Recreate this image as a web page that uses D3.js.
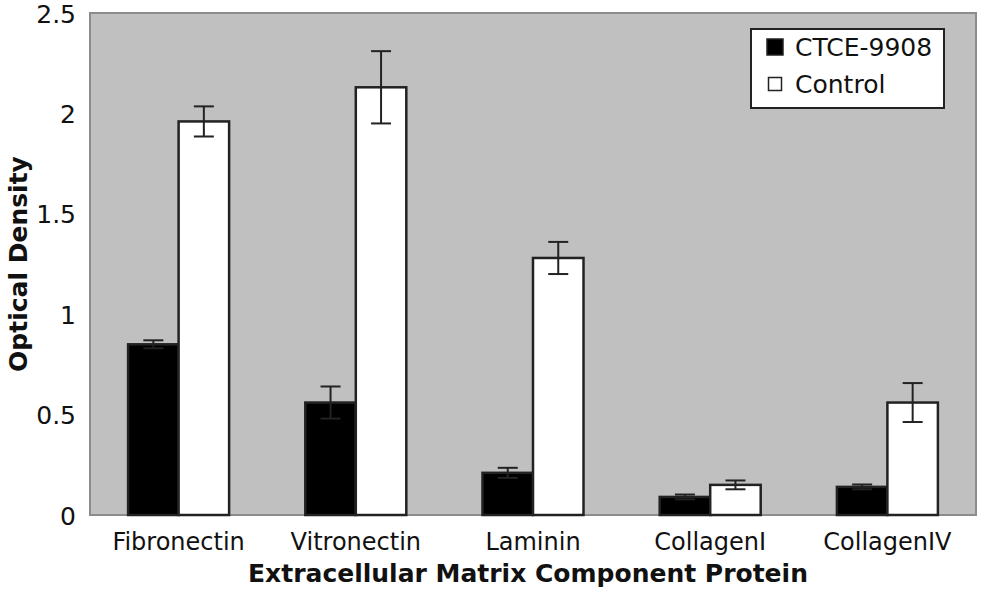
<!DOCTYPE html>
<html><head><meta charset="utf-8">
<script src="https://cdn.jsdelivr.net/npm/d3@7"></script>
<style>body{margin:0;background:#fff}svg{display:block}</style>
</head><body>
<svg id="c" width="986" height="600"></svg>
<script>
const categories = ["Fibronectin","Vitronectin","Laminin","CollagenI","CollagenIV"];
const seriesNames = ["CTCE-9908","Control"];
const ctceValues = [0.85, 0.56, 0.21, 0.09, 0.14];
const ctceErrors = [0.02, 0.08, 0.025, 0.012, 0.012];
const controlValues = [1.96, 2.13, 1.28, 0.15, 0.56];
const controlErrors = [0.075, 0.18, 0.08, 0.022, 0.097];
const yTicks = [0, 0.5, 1, 1.5, 2, 2.5];
const yTickLabels = ["0","0.5","1","1.5","2","2.5"];

const svg = d3.select("#c");
const font = "'DejaVu Sans', Verdana, sans-serif";
const m = {l: 90, t: 13, r: 976, b: 515};
const x = d3.scaleBand().domain(categories).range([m.l, m.r]).paddingInner(0.43).paddingOuter(0.215);
const xs = d3.scaleBand().domain(seriesNames).range([0, x.bandwidth()]);
const y = d3.scaleLinear().domain([0, 2.5]).range([m.b, m.t]);

svg.append("rect").attr("x", m.l).attr("y", m.t).attr("width", m.r - m.l).attr("height", m.b - m.t)
  .attr("fill", "#c0c0c0").attr("stroke", "#8c8c8c").attr("stroke-width", 2);

const series = [
  {name: seriesNames[0], vals: ctceValues, errs: ctceErrors, fill: "#000"},
  {name: seriesNames[1], vals: controlValues, errs: controlErrors, fill: "#fff"}
];
series.forEach(s => {
  const g = svg.append("g");
  g.selectAll("rect").data(categories).join("rect")
    .attr("x", d => x(d) + xs(s.name))
    .attr("y", (d, i) => y(s.vals[i]))
    .attr("width", xs.bandwidth())
    .attr("height", (d, i) => y(0) - y(s.vals[i]))
    .attr("fill", s.fill).attr("stroke", "#222").attr("stroke-width", 2.5);
});
series.forEach(s => {
  const g = svg.append("g").attr("stroke", "#222").attr("stroke-width", 2);
  categories.forEach((c, i) => {
    const cx = x(c) + xs(s.name) + xs.bandwidth() / 2;
    const hi = y(s.vals[i] + s.errs[i]), lo = y(s.vals[i] - s.errs[i]);
    g.append("line").attr("x1", cx).attr("x2", cx).attr("y1", hi).attr("y2", lo);
    g.append("line").attr("x1", cx - 10).attr("x2", cx + 10).attr("y1", hi).attr("y2", hi);
    g.append("line").attr("x1", cx - 10).attr("x2", cx + 10).attr("y1", lo).attr("y2", lo);
  });
});

// y axis
const ya = svg.append("g").attr("transform", `translate(${m.l - 11},0)`)
  .call(d3.axisLeft(y).tickValues(yTicks).tickFormat((d, i) => yTickLabels[i]).tickSize(0));
ya.select(".domain").remove();
ya.selectAll("text").attr("font-family", font).attr("font-size", 25).attr("fill", "#111").attr("dy", "0.36em");

// x axis
const xa = svg.append("g").attr("transform", `translate(0,${m.b})`)
  .call(d3.axisBottom(x).tickSize(0));
xa.select(".domain").remove();
xa.selectAll("text").attr("font-family", font).attr("font-size", 24).attr("fill", "#111")
  .attr("y", 0).attr("dy", 0).attr("transform", "translate(0,35)");

svg.append("text").attr("x", 528).attr("y", 582).attr("text-anchor", "middle")
  .attr("font-family", font).attr("font-weight", "bold").attr("font-size", 25).attr("fill", "#111")
  .text("Extracellular Matrix Component Protein");
svg.append("text").attr("transform", "translate(27,264) rotate(-90)").attr("text-anchor", "middle")
  .attr("font-family", font).attr("font-weight", "bold").attr("font-size", 25).attr("fill", "#111")
  .text("Optical Density");

// legend
const lg = svg.append("g").attr("transform", "translate(751,29)");
lg.append("rect").attr("width", 193).attr("height", 79).attr("fill", "#fff").attr("stroke", "#222").attr("stroke-width", 2);
series.forEach((s, i) => {
  const row = lg.append("g").attr("transform", `translate(16,${18 + i * 37})`);
  const sz = i === 0 ? 16 : 13;
  row.append("rect").attr("x", (16 - sz) / 2).attr("y", -sz / 2).attr("width", sz).attr("height", sz)
    .attr("fill", s.fill).attr("stroke", "#222").attr("stroke-width", 1.5);
  row.append("text").attr("x", 28).attr("y", 0).attr("dy", "0.36em")
    .attr("font-family", font).attr("font-size", 25).attr("fill", "#111").text(s.name);
});
</script>
</body></html>
